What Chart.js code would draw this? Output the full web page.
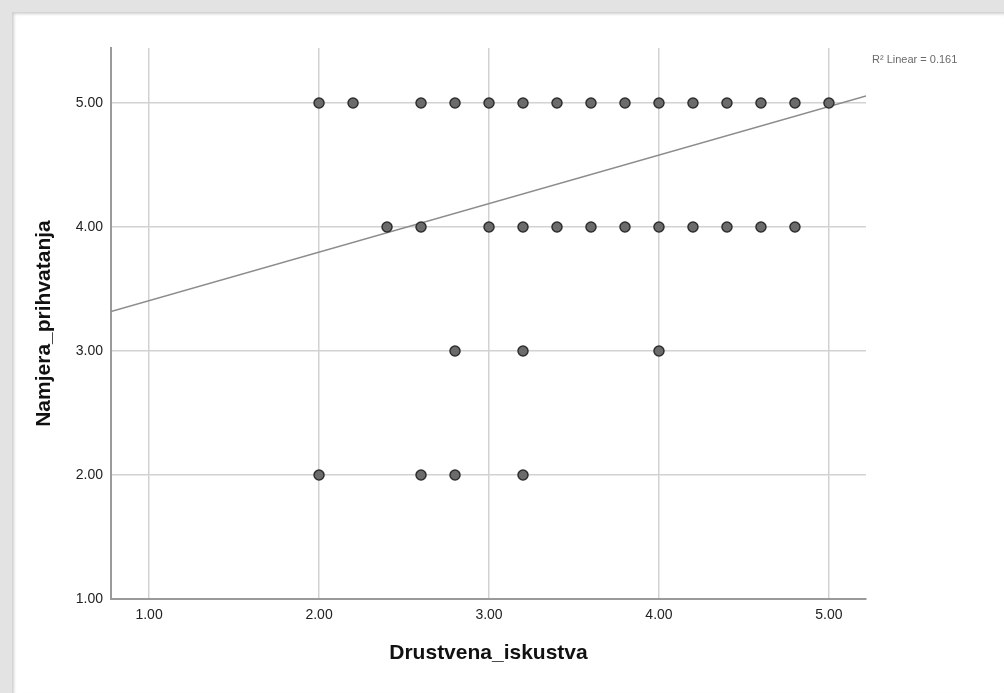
<!DOCTYPE html>
<html>
<head>
<meta charset="utf-8">
<script src="https://cdn.jsdelivr.net/npm/chart.js@4"></script>
<style>
  body { margin: 0; background: #fff; }
  #frame {
    position: absolute; left: 0; top: 0; width: 1004px; height: 693px;
    box-sizing: border-box; background: #fff;
    border-top: 12px solid #e3e3e3; border-left: 12px solid #e3e3e3;
    box-shadow: inset 2px 2px 3px #cfcfcf;
  }
  #myScatter { position: absolute; left: 0; top: 0; }
  #rsq {
    position: absolute; left: 872px; top: 53px;
    font: 11px "Liberation Sans", Arial, sans-serif; color: #6a6a6a;
  }
</style>
</head>
<body>
<div id="frame"></div>
<canvas id="myScatter" width="1004" height="693"></canvas>
<div id="rsq">R² Linear = 0.161</div>
<script>
// Drustvena_iskustva (x) and Namjera_prihvatanja (y), one entry per marker
const drustvena = [
  2.0, 2.2, 2.6, 2.8, 3.0, 3.2, 3.4, 3.6, 3.8, 4.0, 4.2, 4.4, 4.6, 4.8, 5.0,
  2.4, 2.6, 3.0, 3.2, 3.4, 3.6, 3.8, 4.0, 4.2, 4.4, 4.6, 4.8,
  2.8, 3.2, 4.0,
  2.0, 2.6, 2.8, 3.2
];
const namjera = [
  5, 5, 5, 5, 5, 5, 5, 5, 5, 5, 5, 5, 5, 5, 5,
  4, 4, 4, 4, 4, 4, 4, 4, 4, 4, 4, 4,
  3, 3, 3,
  2, 2, 2, 2
];

// fit line ends (R² linear = 0.161)
const fitX = [0.776, 5.218];
const fitY = [3.318, 5.058];

const xTicks = [1, 2, 3, 4, 5];
const yTicks = [1, 2, 3, 4, 5];

const pointData = drustvena.map((x, i) => ({ x: x, y: namjera[i] }));
const fitData = fitX.map((x, i) => ({ x: x, y: fitY[i] }));

const tickFont = { family: '"Liberation Sans", Arial, sans-serif', size: 14 };
const titleFont = { family: '"Liberation Sans", Arial, sans-serif', size: 21, weight: 'bold' };

const scatterConfig = {
  type: 'scatter',
  data: {
    datasets: [
      {
        label: 'Observed',
        data: pointData,
        backgroundColor: '#6b6b6b',
        borderColor: '#2e2e2e',
        borderWidth: 1.5,
        pointRadius: 5,
        pointHoverRadius: 5
      },
      {
        label: 'Linear',
        type: 'line',
        data: fitData,
        borderColor: '#8c8c8c',
        borderWidth: 1.5,
        pointRadius: 0,
        fill: false
      }
    ]
  },
  options: {
    responsive: false,
    animation: false,
    layout: { padding: { left: 0, top: 48, right: 138, bottom: 0 } },
    plugins: {
      legend: { display: false },
      tooltip: { enabled: false }
    },
    scales: {
      x: {
        type: 'linear',
        min: 0.776,
        max: 5.218,
        afterBuildTicks: (scale) => { scale.ticks = xTicks.map(v => ({ value: v })); },
        afterFit: (scale) => { scale.height = 94; },
        ticks: {
          color: '#222',
          font: tickFont,
          padding: 8,
          maxRotation: 0,
          autoSkip: false,
          callback: (v) => Number(v).toFixed(2)
        },
        grid: { color: '#d2d2d2', lineWidth: 1.5, drawTicks: false },
        border: { display: true, color: '#9a9a9a', width: 2 },
        title: {
          display: true,
          text: 'Drustvena_iskustva',
          color: '#111',
          font: titleFont,
          padding: { top: 0, bottom: 27 }
        }
      },
      y: {
        type: 'linear',
        min: 1,
        max: 5.444,
        afterBuildTicks: (scale) => { scale.ticks = yTicks.map(v => ({ value: v })); },
        afterFit: (scale) => { scale.width = 111; },
        ticks: {
          color: '#222',
          font: tickFont,
          padding: 8,
          autoSkip: false,
          callback: (v) => Number(v).toFixed(2)
        },
        grid: { color: '#d2d2d2', lineWidth: 1.5, drawTicks: false },
        border: { display: true, color: '#9a9a9a', width: 2 },
        title: {
          display: true,
          text: 'Namjera_prihvatanja',
          color: '#111',
          font: titleFont,
          padding: { top: 32, bottom: 0 }
        }
      }
    }
  }
};

const myScatter = new Chart(
  document.getElementById('myScatter'),
  scatterConfig
);
</script>
</body>
</html>
